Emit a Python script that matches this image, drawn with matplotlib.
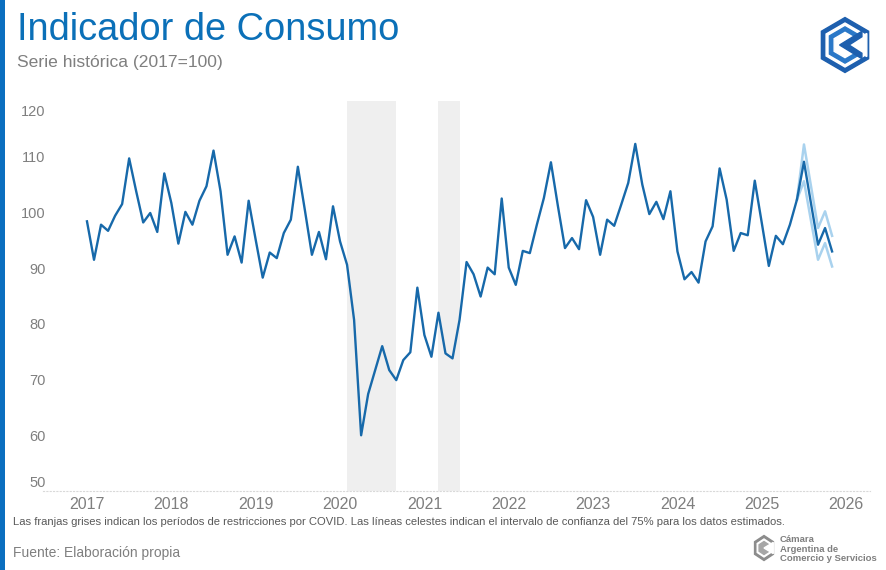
import numpy as np
import matplotlib
matplotlib.use("Agg")
import matplotlib.pyplot as plt
from matplotlib.patches import Polygon, Rectangle
from matplotlib.transforms import ScaledTranslation

plt.rcParams['font.family'] = ['Liberation Sans', 'DejaVu Sans']

# monthly index, Jan 2017 .. Nov 2025
consumo = [
    98.4, 91.5, 97.8, 96.7, 99.4, 101.5, 109.7, 103.8, 98.2, 99.9, 96.5, 107.0,
    101.7, 94.4, 100.1, 97.8, 102.1, 104.7, 111.1, 103.8, 92.4, 95.7, 91.0, 102.1,
    95.1, 88.3, 92.8, 91.8, 96.3, 98.7, 108.2, 100.4, 92.4, 96.5, 91.6, 101.1,
    94.8, 90.6, 80.7, 60.0, 67.4, 71.7, 76.0, 71.7, 69.9, 73.5, 74.9, 86.5,
    78.0, 74.1, 82.0, 74.7, 73.8, 80.7, 91.1, 88.9, 84.9, 90.1, 88.9, 102.5,
    90.1, 87.0, 93.1, 92.7, 97.8, 102.6, 109.0, 101.1, 93.6, 95.4, 93.4, 102.2,
    99.2, 92.4, 98.7, 97.6, 101.4, 105.3, 112.3, 105.0, 99.7, 101.9, 98.8, 103.8,
    93.0, 88.0, 89.3, 87.4, 94.8, 97.5, 107.9, 102.3, 93.1, 96.3, 95.9, 105.7,
    98.1, 90.4, 95.8, 94.3, 97.8, 102.3, 109.1, 101.6, 94.2, 97.2, 93.0,
]
meses = list(range(len(consumo)))

# 75% confidence interval for estimated months (Jun..Nov 2025)
ic_meses = [101, 102, 103, 104, 105, 106]
ic_sup = [102.3, 112.2, 104.7, 97.2, 100.2, 95.8]
ic_inf = [102.3, 105.6, 98.5, 91.5, 94.5, 90.3]

# COVID restriction periods (month index)
franjas = [(37, 44), (50, 53)]

anios = ['2017', '2018', '2019', '2020', '2021', '2022', '2023', '2024', '2025', '2026']
anio_pos = [12 * i for i in range(len(anios))]
y_ticks = [50, 60, 70, 80, 90, 100, 110, 120]

azul = '#1769AA'
celeste = '#A9D2EE'
gris = '#7F7F7F'

fig = plt.figure(figsize=(8.86, 5.70), dpi=100)
ax = fig.add_axes([0.0485, 0.1386, 0.9335, 0.6842])

for a, b in franjas:
    ax.axvspan(a, b, color='#EFEFEF', lw=0, zorder=0)

ax.plot(ic_meses, ic_sup, color=celeste, lw=1.8, zorder=2)
ax.plot(ic_meses, ic_inf, color=celeste, lw=1.8, zorder=2)
ax.plot(meses, consumo, color=azul, lw=1.7, zorder=3)

ax.set_xlim(-6.26, 111.4)
ax.set_ylim(50, 120)
ax.set_xticks(anio_pos)
ax.set_xticklabels(anios, fontsize=11.5, color=gris)
ax.set_yticks(y_ticks)
ax.set_yticklabels([str(v) for v in y_ticks], fontsize=10.5, color=gris)
ax.tick_params(axis='both', length=0)
ax.tick_params(axis='x', pad=4)
ax.tick_params(axis='y', pad=-2)
# end labels sit a little inside the plot area, as in the original
ylabs = ax.get_yticklabels()
ylabs[0].set_transform(ylabs[0].get_transform() + ScaledTranslation(0, 0.09, fig.dpi_scale_trans))
ylabs[-1].set_transform(ylabs[-1].get_transform() + ScaledTranslation(0, -0.09, fig.dpi_scale_trans))
for s in ['top', 'right', 'left']:
    ax.spines[s].set_visible(False)
ax.spines['bottom'].set_color('#D9D9D9')
ax.spines['bottom'].set_linestyle((0, (1, 2)))
ax.spines['bottom'].set_linewidth(0.8)

# left accent bar
fig.patches.append(Rectangle((0, 0), 5 / 886, 1, transform=fig.transFigure,
                             color='#0B6FBF', lw=0))

fig.text(17 / 886, 1 - 30 / 570, 'Indicador de Consumo', fontsize=27.4,
         color='#0B70B8', va='center', ha='left')
fig.text(17 / 886, 1 - 63 / 570, 'Serie histórica (2017=100)', fontsize=12.6,
         color=gris, va='center', ha='left')
fig.text(13 / 886, 1 - 522 / 570,
         'Las franjas grises indican los períodos de restricciones por COVID. '
         'Las líneas celestes indican el intervalo de confianza del 75% para los datos estimados.',
         fontsize=8.15, color='#595959', va='center', ha='left')
fig.text(13 / 886, 1 - 553 / 570, 'Fuente: Elaboración propia', fontsize=10.0,
         color=gris, va='center', ha='left')

# top-right logo (simplified hexagon mark)
ang = np.deg2rad(np.arange(90, 450, 60))
hx, hy = np.cos(ang), np.sin(ang)

lg = fig.add_axes([815 / 886, 1 - 78 / 570, 60 / 886, 66 / 570])
lg.set_xlim(-1.1, 1.1)
lg.set_ylim(-1.2, 1.2)
lg.axis('off')
lg.add_patch(Polygon(np.c_[hx, hy], closed=True, color='#1D5FAE'))
lg.add_patch(Polygon(np.c_[0.8 * hx, 0.8 * hy], closed=True, color='white'))
lg.add_patch(Polygon(np.c_[0.66 * hx, 0.66 * hy], closed=True, color='#2A78C8'))
lg.add_patch(Polygon(np.c_[0.46 * hx, 0.46 * hy], closed=True, color='white'))
# open the inner rings on the right and put the "<" mark there
lg.add_patch(Polygon([[0.05, 0.0], [0.8, 0.42], [0.8, -0.42]], closed=True, color='white'))
lg.add_patch(Polygon([[-0.2, 0.0], [0.62, 0.5], [0.62, 0.3], [0.15, 0.0], [0.62, -0.3], [0.62, -0.5]],
                     closed=True, color='#1D5FAE'))

# bottom-right logo
lg2 = fig.add_axes([752 / 886, 1 - 563 / 570, 24 / 886, 30 / 570])
lg2.set_xlim(-1.1, 1.1)
lg2.set_ylim(-1.2, 1.2)
lg2.axis('off')
lg2.add_patch(Polygon(np.c_[hx, hy], closed=True, color='#8C8C8C'))
lg2.add_patch(Polygon(np.c_[0.72 * hx, 0.72 * hy], closed=True, color='white'))
lg2.add_patch(Polygon(np.c_[0.52 * hx, 0.52 * hy], closed=True, color='#A6A6A6'))
lg2.add_patch(Polygon([[0.0, 0.0], [0.85, 0.45], [0.85, -0.45]], closed=True, color='white'))
fig.text(780 / 886, 1 - 549 / 570, 'Cámara\nArgentina de\nComercio y Servicios',
         fontsize=6.8, fontweight='bold', color='#7F7F7F', va='center', ha='left',
         linespacing=1.05)

fig.savefig('out.png', dpi=100)
